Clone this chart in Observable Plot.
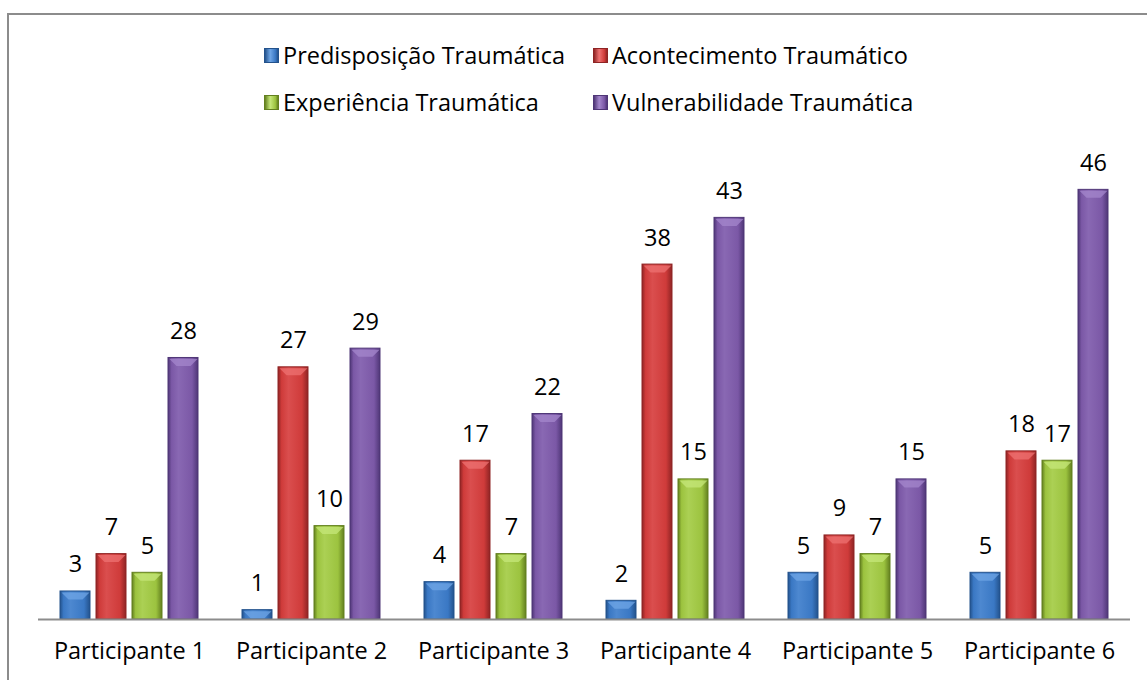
<!DOCTYPE html>
<html>
<head>
<meta charset="utf-8">
<script src="https://cdn.jsdelivr.net/npm/d3@7"></script>
<script src="https://cdn.jsdelivr.net/npm/@observablehq/plot@0.6"></script>
<style>
  html, body { margin: 0; padding: 0; background: #fff; }
  #wrap { position: relative; width: 1147px; height: 680px; overflow: hidden; font-family: "Open Sans", sans-serif; }
  #frame { position: absolute; left: 7px; top: 13px; width: 1200px; height: 700px; border-left: 2px solid #8c8c8c; border-top: 2px solid #8c8c8c; box-sizing: border-box; }
  #legend { position: relative; height: 120px; }
  .item { position: absolute; display: flex; align-items: center; font-size: 23.5px; color: #000; white-space: nowrap; }
  .sw { width: 15px; height: 15px; margin-right: 4px; box-sizing: border-box; }
  #chart { position: relative; }
</style>
</head>
<body>
<svg width="0" height="0" style="position:absolute">
  <defs id="defs"></defs>
</svg>
<div id="wrap">
  <div id="frame"></div>
  <div id="legend"></div>
  <div id="chart"></div>
</div>
<script>
// ---- data ----
const participants = ["Participante 1", "Participante 2", "Participante 3", "Participante 4", "Participante 5", "Participante 6"];
const series = ["Predisposição Traumática", "Acontecimento Traumático", "Experiência Traumática", "Vulnerabilidade Traumática"];
const predisposicao = [3, 1, 4, 2, 5, 5];
const acontecimento = [7, 27, 17, 38, 9, 18];
const experiencia = [5, 10, 7, 15, 7, 17];
const vulnerabilidade = [28, 29, 22, 43, 15, 46];

// ---- styles ----
const baseColors = ["#3a78c4", "#cf3b3a", "#9cc33f", "#7b58a6"];
const lightColors = ["#6fa6e6", "#ee7272", "#c6e77a", "#a487cc"];
const darkColors = ["#23528c", "#8f2424", "#63801f", "#4f3677"];

const values = [predisposicao, acontecimento, experiencia, vulnerabilidade];
const table = [];
participants.forEach((p, i) => {
  series.forEach((s, j) => table.push({participant: p, series: s, si: j, value: values[j][i]}));
});

// gradients
const defs = d3.select("#defs");
baseColors.forEach((c, i) => {
  const g = defs.append("linearGradient").attr("id", "g" + i).attr("x1", 0).attr("x2", 1).attr("y1", 0).attr("y2", 0);
  g.append("stop").attr("offset", "0%").attr("stop-color", darkColors[i]);
  g.append("stop").attr("offset", "12%").attr("stop-color", c);
  g.append("stop").attr("offset", "35%").attr("stop-color", d3.interpolateRgb(c, lightColors[i])(0.35));
  g.append("stop").attr("offset", "80%").attr("stop-color", c);
  g.append("stop").attr("offset", "100%").attr("stop-color", darkColors[i]);
});

// legend
const legend = d3.select("#legend");
const legendPos = [[264, 46], [593, 46], [264, 93], [593, 93]];
const legendSeries = [0, 1, 2, 3];
legendSeries.forEach((j, k) => {
  const it = legend.append("div").attr("class", "item")
    .style("left", legendPos[k][0] + "px").style("top", (legendPos[k][1] - 7) + "px");
  it.append("div").attr("class", "sw")
    .style("background", `linear-gradient(to right, ${darkColors[j]}, ${lightColors[j]} 40%, ${baseColors[j]} 80%, ${darkColors[j]})`)
    .style("border", `1px solid ${darkColors[j]}`);
  it.append("span").text(series[j]);
});

// bevel symbol (flat downward trapezoid at bar top)
const bevel = {
  draw(ctx) {
    ctx.moveTo(-14, 0);
    ctx.lineTo(14, 0);
    ctx.lineTo(7, 7);
    ctx.lineTo(-7, 7);
    ctx.closePath();
  }
};

const chart = Plot.plot({
  width: 1147,
  height: 560,
  marginLeft: 37,
  marginRight: 17,
  marginTop: 32,
  marginBottom: 61,
  style: {fontFamily: "'Open Sans', sans-serif", fontSize: "23.5px", color: "#000", background: "transparent"},
  facet: {data: table, x: "participant"},
  fx: {domain: participants, padding: 0, axis: "bottom", tickSize: 0, tickPadding: 23, label: null},
  x: {domain: series, axis: null, paddingInner: 0.167, paddingOuter: 0.611},
  y: {domain: [0, 50], axis: null},
  color: {type: "identity"},
  marks: [
    Plot.barY(table, {
      x: "series", y: "value",
      fill: d => `url(#g${d.si})`,
      stroke: d => darkColors[d.si], strokeWidth: 1
    }),
    Plot.dot(table, {
      x: "series", y: "value",
      symbol: bevel, r: 4, dy: 1,
      fill: d => lightColors[d.si], fillOpacity: 0.75, stroke: "none"
    }),
    Plot.ruleY([0], {stroke: "#8c8c8c", strokeWidth: 2}),
    Plot.text(table, {
      x: "series", y: "value", text: d => String(d.value),
      lineAnchor: "bottom", dy: -19, fill: "#000", fontSize: 23.5
    })
  ]
});
document.getElementById("chart").appendChild(chart);
</script>
</body>
</html>
